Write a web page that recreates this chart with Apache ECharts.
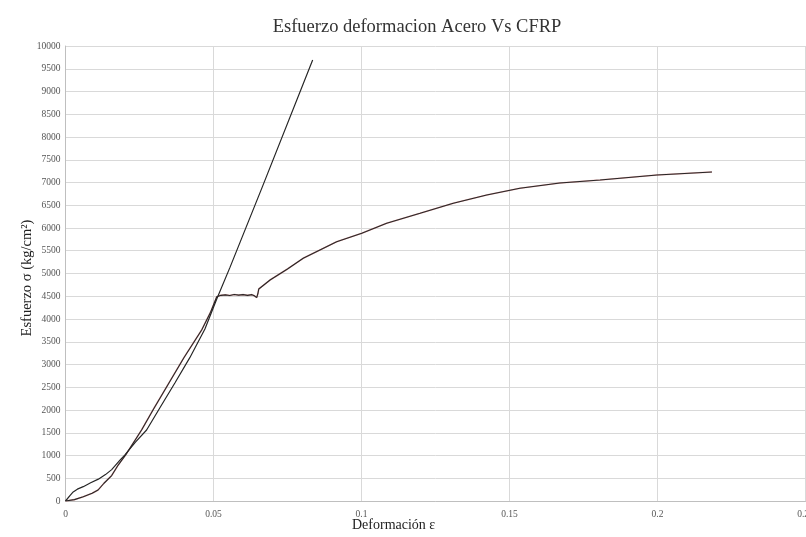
<!DOCTYPE html>
<html>
<head>
<meta charset="utf-8">
<script src="https://cdn.jsdelivr.net/npm/echarts@6/dist/echarts.min.js"></script>
<style>
  html, body { margin: 0; padding: 0; background: #ffffff; }
  #chart { width: 806px; height: 537px; }
</style>
</head>
<body>
<div id="chart"></div>
<script>
// Stress–strain readings: strain ε (–) and stress σ (kg/cm²)
const steelStrain = [0, 0.003, 0.006, 0.009, 0.011, 0.013, 0.0156, 0.0178, 0.0205, 0.0257, 0.030, 0.035, 0.040, 0.046, 0.049, 0.0511,
  0.0525, 0.054, 0.0555, 0.057, 0.0585, 0.060, 0.0615, 0.063, 0.0638, 0.0643, 0.0646, 0.0650, 0.0653,
  0.0691, 0.0750, 0.0803, 0.0916, 0.1001, 0.1085, 0.1198, 0.1310, 0.1423, 0.1535, 0.167, 0.1806, 0.1998, 0.2184];
const steelStress = [0, 30, 95, 170, 242, 390, 560, 790, 1030, 1560, 2050, 2600, 3150, 3758, 4150, 4490,
  4520, 4530, 4515, 4540, 4525, 4535, 4520, 4535, 4510, 4480, 4470, 4560, 4660,
  4857, 5100, 5334, 5699, 5884, 6103, 6323, 6543, 6725, 6873, 6989, 7055, 7165, 7231];

const cfrpStrain = [0, 0.0015, 0.0026, 0.004, 0.006, 0.0085, 0.0111, 0.0135, 0.0156, 0.0184, 0.0200, 0.0237, 0.0274, 0.032, 0.037, 0.042, 0.0471, 0.0511,
  0.0556, 0.0666, 0.0668, 0.0669, 0.0835];
const cfrpStress = [0, 120, 200, 260, 315, 400, 480, 580, 690, 900, 1010, 1300, 1560, 2060, 2600, 3150, 3780, 4440,
  5140, 6920, 6895, 6960, 9692];

const xTicks = [0, 0.05, 0.1, 0.15, 0.2, 0.25];

const pairs = (xs, ys) => xs.map((x, i) => [x, ys[i]]);
const steelData = pairs(steelStrain, steelStress);
const cfrpData = pairs(cfrpStrain, cfrpStress);

const serif = '"Liberation Serif", "DejaVu Serif", serif';

const chart = echarts.init(document.getElementById('chart'), null, { renderer: 'canvas' });
chart.setOption({
  backgroundColor: '#ffffff',
  animation: false,
  title: {
    text: 'Esfuerzo deformacion Acero Vs CFRP',
    left: 412,
    top: 13,
    textAlign: 'center',
    textStyle: { fontFamily: serif, fontSize: 18.5, fontWeight: 'normal', color: '#333333' }
  },
  grid: { left: 65.5, right: 0.5, top: 46, bottom: 36, containLabel: false, outerBoundsMode: 'none' },
  xAxis: {
    type: 'value',
    min: 0,
    max: 0.25,
    interval: 0.05,
    axisLine: { show: true, lineStyle: { color: '#bfbfbf', width: 1 } },
    axisTick: { show: false },
    axisLabel: {
      fontFamily: serif, fontSize: 9.5, color: '#555555', margin: 8,
      formatter: v => String(xTicks.find(t => Math.abs(t - v) < 1e-9) ?? v)
    },
    splitLine: { show: true, lineStyle: { color: '#d9d9d9', width: 1 } }
  },
  yAxis: {
    type: 'value',
    min: 0,
    max: 10000,
    interval: 500,
    axisLine: { show: true, lineStyle: { color: '#bfbfbf', width: 1 } },
    axisTick: { show: false },
    axisLabel: { fontFamily: serif, fontSize: 9.5, color: '#555555', margin: 5, formatter: v => String(v) },
    splitLine: { show: true, lineStyle: { color: '#d9d9d9', width: 1 } }
  },
  graphic: [
    {
      type: 'text',
      left: 352,
      top: 518,
      style: { text: 'Deformación ε', font: '14px ' + serif, fill: '#222222' }
    },
    {
      type: 'text',
      rotation: Math.PI / 2,
      x: 27,
      y: 278,
      style: { text: 'Esfuerzo σ (kg/cm²)', font: '14.5px ' + serif, fill: '#222222', textAlign: 'center', textVerticalAlign: 'middle' }
    }
  ],
  series: [
    {
      name: 'Acero (fondo)',
      type: 'line',
      data: steelData,
      showSymbol: false,
      smooth: false,
      lineStyle: { color: '#c04848', width: 1.6, opacity: 0.45 },
      z: 2
    },
    {
      name: 'Acero',
      type: 'line',
      data: steelData,
      showSymbol: false,
      smooth: false,
      lineStyle: { color: '#262626', width: 1.1 },
      z: 3
    },
    {
      name: 'CFRP',
      type: 'line',
      data: cfrpData,
      showSymbol: false,
      smooth: false,
      lineStyle: { color: '#262626', width: 1.2 },
      z: 4
    }
  ]
});
</script>
</body>
</html>
